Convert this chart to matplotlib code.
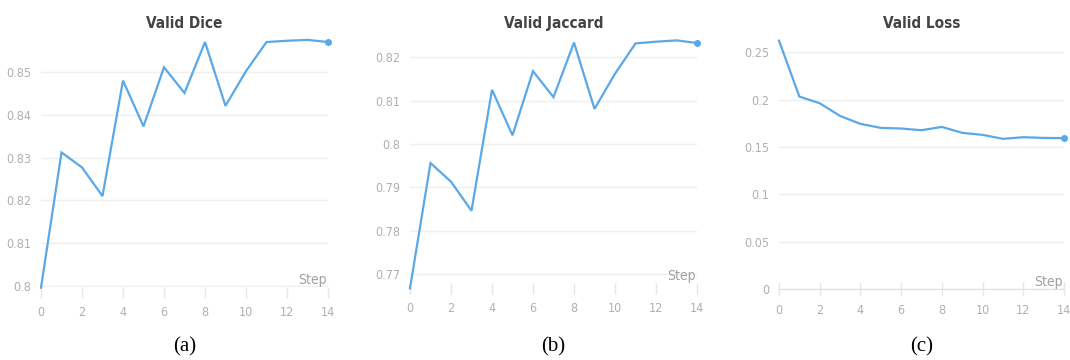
import matplotlib
matplotlib.use('Agg')
import matplotlib.pyplot as plt

W, H = 1070, 360

steps = list(range(15))
dice = [0.7996, 0.8312, 0.8277, 0.8210, 0.8480, 0.8373, 0.8511, 0.8451,
        0.8570, 0.8421, 0.8502, 0.8570, 0.8573, 0.8575, 0.8570]
jaccard = [0.7667, 0.7956, 0.7913, 0.7846, 0.8125, 0.8020, 0.8168, 0.8108,
           0.8234, 0.8081, 0.8162, 0.8232, 0.8236, 0.8239, 0.8233]
loss = [0.2623, 0.2032, 0.1962, 0.1828, 0.1744, 0.1702, 0.1695, 0.1677,
        0.1712, 0.1649, 0.1628, 0.1586, 0.1603, 0.1596, 0.1593]

titles = ["Valid Dice", "Valid Jaccard", "Valid Loss"]
captions = ["(a)", "(b)", "(c)"]
yticks = [
    [0.8, 0.81, 0.82, 0.83, 0.84, 0.85],
    [0.77, 0.78, 0.79, 0.8, 0.81, 0.82],
    [0, 0.05, 0.1, 0.15, 0.2, 0.25],
]
yticklabels = [
    ["0.8", "0.81", "0.82", "0.83", "0.84", "0.85"],
    ["0.77", "0.78", "0.79", "0.8", "0.81", "0.82"],
    ["0", "0.05", "0.1", "0.15", "0.2", "0.25"],
]
xticks = [0, 2, 4, 6, 8, 10, 12, 14]

LINE = "#5aa8e8"
GRID = "#efefef"
TICKC = "#b0b0b0"
FONT = ["DejaVu Sans"]
NARROW = dict(family=FONT, stretch="condensed")

# per panel: x-pixel of step 0 and 14, (pixel, value) of two y ticks, bottom px
panels = [
    dict(x0=41, x1=328, ya=(286, 0.8), yb=(72, 0.85), bottom=287, spine=False),
    dict(x0=410, x1=697, ya=(274, 0.77), yb=(57.3, 0.82), bottom=283, spine=False),
    dict(x0=779, x1=1064, ya=(289, 0.0), yb=(52.3, 0.25), bottom=289, spine=True),
]
series = [dice, jaccard, loss]
top_px = 36

fig = plt.figure(figsize=(W / 100, H / 100), dpi=100)

for i, p in enumerate(panels):
    ax = fig.add_axes([p["x0"] / W, (H - p["bottom"]) / H,
                       (p["x1"] - p["x0"]) / W, (p["bottom"] - top_px) / H])
    per_px = (p["yb"][1] - p["ya"][1]) / (p["ya"][0] - p["yb"][0])
    ylo = p["ya"][1] - (p["bottom"] - p["ya"][0]) * per_px
    yhi = p["ya"][1] + (p["ya"][0] - top_px) * per_px
    ax.set_xlim(0, 14)
    ax.set_ylim(ylo, yhi)

    for v in yticks[i]:
        ax.axhline(v, color=GRID, lw=1.0, zorder=0)

    ax.plot(steps, series[i], color=LINE, lw=1.6, clip_on=False, zorder=3,
            solid_joinstyle="miter")
    ax.plot(steps[-1], series[i][-1], "o", color=LINE, ms=4, clip_on=False, zorder=4)

    for s in ["top", "right", "left"]:
        ax.spines[s].set_visible(False)
    if p["spine"]:
        ax.spines["bottom"].set_color("#dddddd")
        ax.tick_params(axis="x", direction="inout", length=10)
    else:
        ax.spines["bottom"].set_visible(False)
        ax.tick_params(axis="x", direction="out", length=8)

    ax.set_xticks(xticks)
    ax.set_xticklabels([str(t) for t in xticks])
    ax.set_yticks(yticks[i])
    ax.set_yticklabels(yticklabels[i])
    ax.tick_params(axis="x", color="#e6e6e6", width=1, labelcolor=TICKC,
                   labelsize=9, pad=6)
    ax.tick_params(axis="y", length=0, labelcolor=TICKC, labelsize=9, pad=7)
    for lab in ax.get_xticklabels() + ax.get_yticklabels():
        lab.set_family(FONT)
        lab.set_stretch("condensed")

    ax.set_title(titles[i], fontsize=11, color="#444444", fontweight="semibold",
                 pad=6, **NARROW)
    ax.text(0.995, 0.0, "Step", transform=ax.transAxes, ha="right", va="bottom",
            fontsize=10, color="#a0a0a0", **NARROW)

    cx = (p["x0"] + p["x1"]) / 2 / W
    fig.text(cx, 1 - 347 / H, captions[i], ha="center", va="center",
             fontsize=15, family=["Liberation Serif", "DejaVu Serif"], color="black")

fig.savefig("out.png", dpi=100, facecolor="white")
